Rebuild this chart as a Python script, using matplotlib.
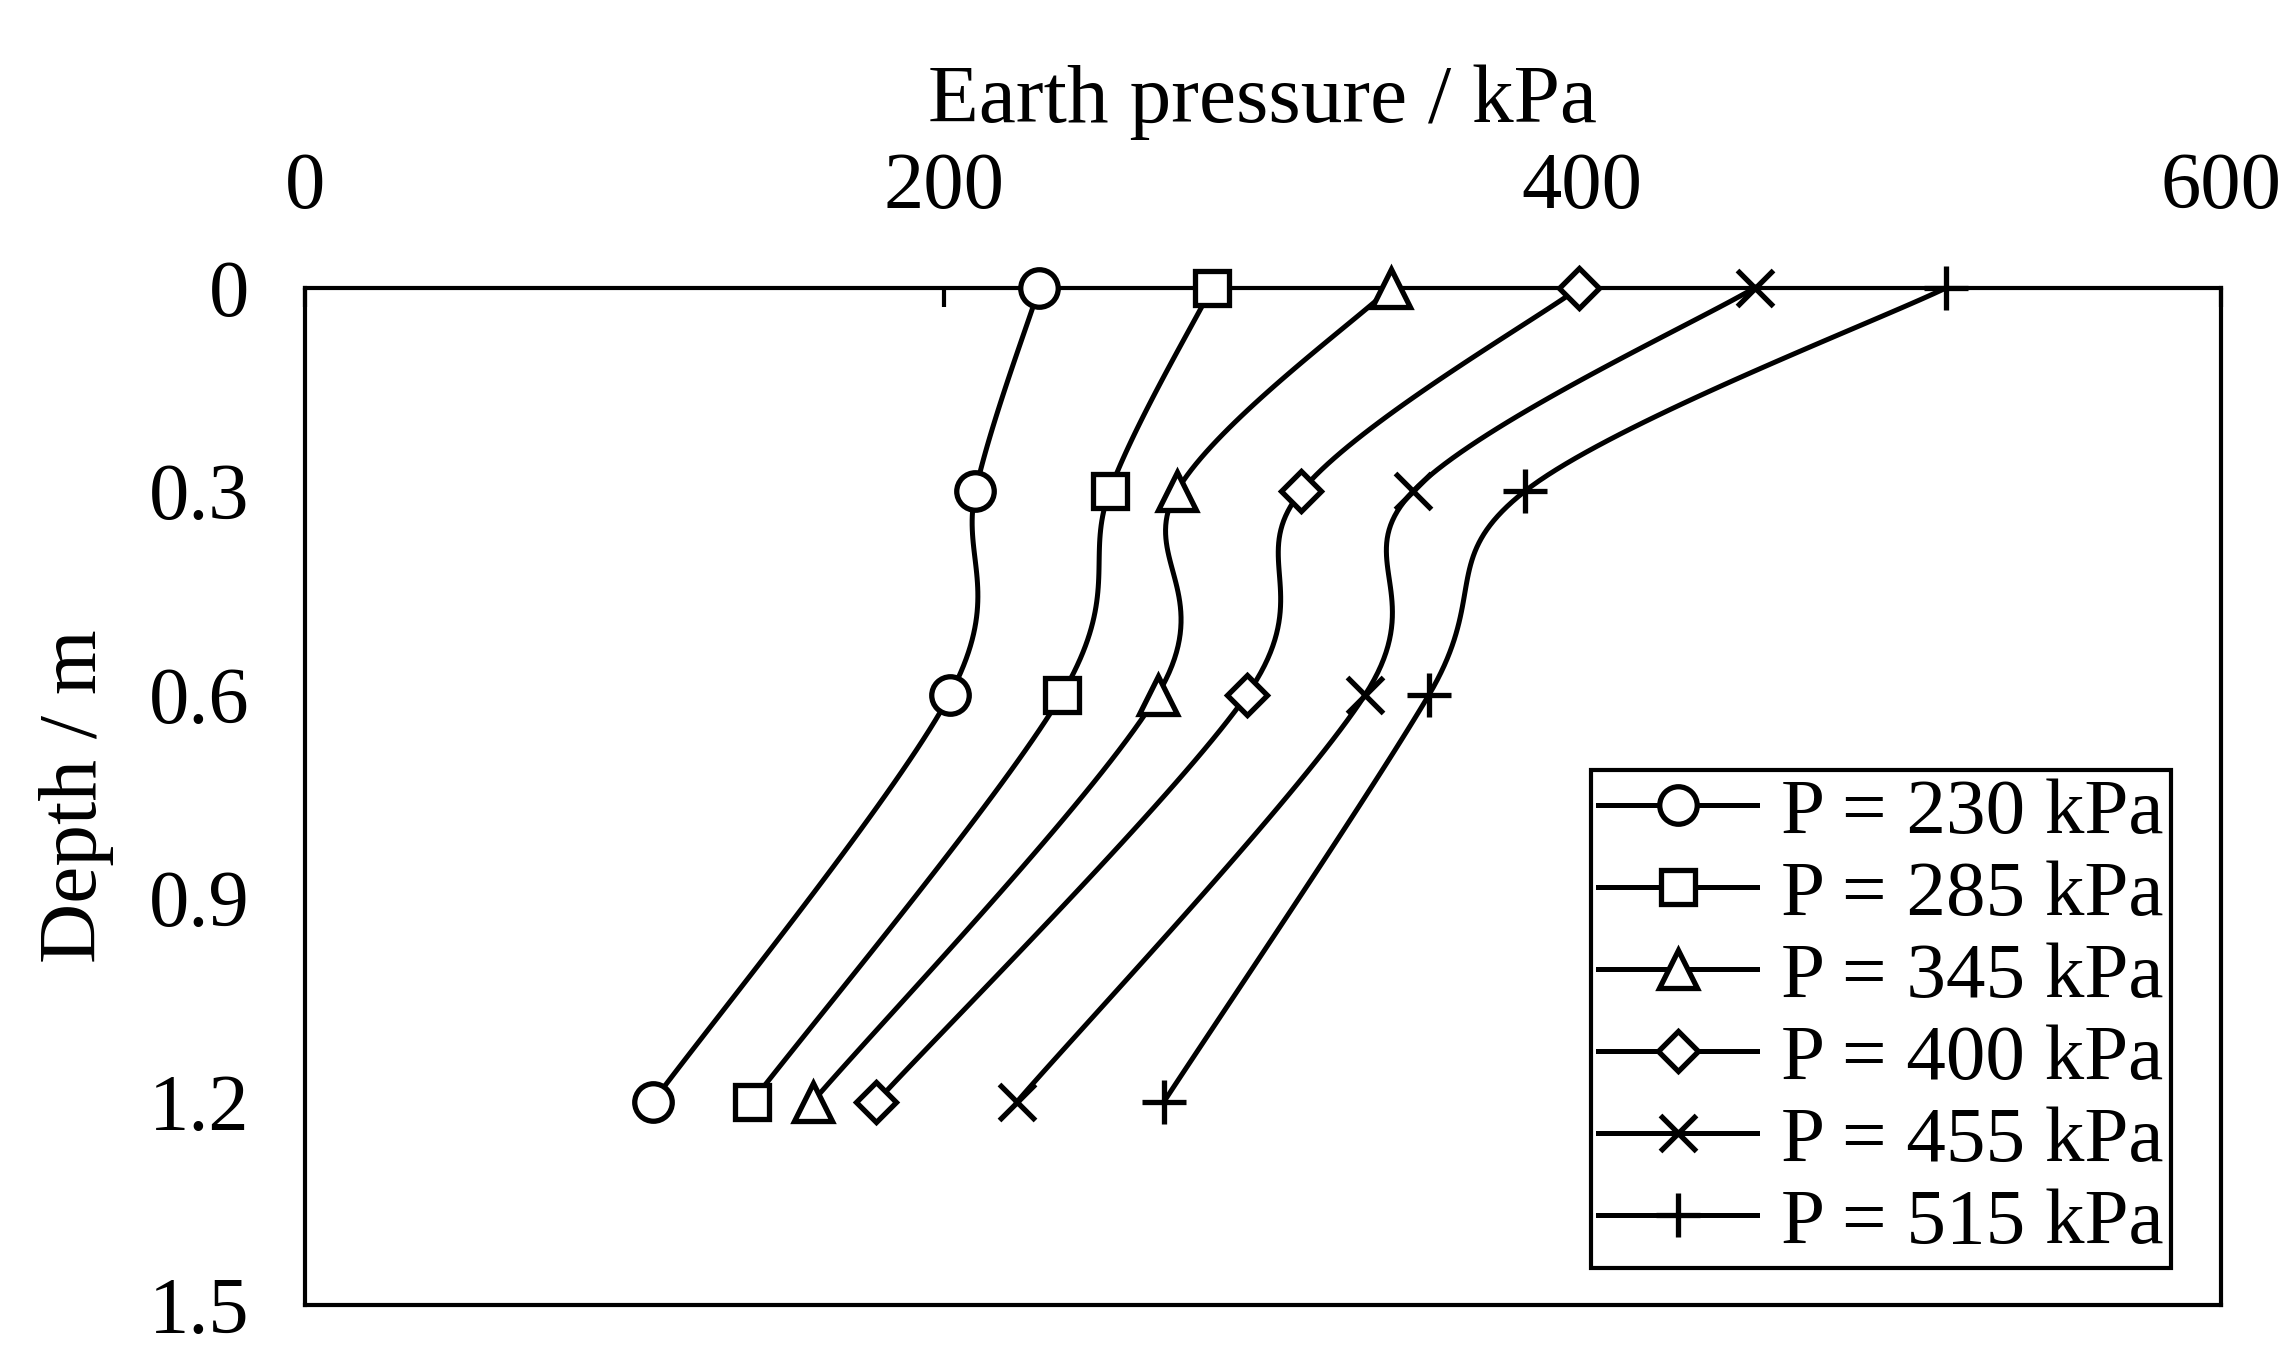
import matplotlib.pyplot as plt
import numpy as np

plt.rcParams['font.family'] = ['Liberation Serif', 'DejaVu Serif']

depth = [0, 0.3, 0.6, 1.2]
p230 = [230, 210, 202, 109]
p285 = [284, 252, 237, 140]
p345 = [340, 273, 267, 159]
p400 = [399, 312, 295, 179]
p455 = [454, 347, 332, 223]
p515 = [514, 382, 352, 269]
series = [p230, p285, p345, p400, p455, p515]
labels = ["P = 230 kPa", "P = 285 kPa", "P = 345 kPa", "P = 400 kPa", "P = 455 kPa", "P = 515 kPa"]
markers = ['o', 's', '^', 'D', 'x', '+']
msizes = [27, 24, 28, 20, 26, 32]


def smooth(xs, ys, n=40):
    # Catmull-Rom through the points, like Excel's smoothed line
    pts = np.column_stack([np.array(xs) / 600 * 1.88, np.array(ys) / 1.5])
    pts = np.vstack([pts[0], pts, pts[-1]])
    out = []
    for i in range(1, len(pts) - 2):
        p0, p1, p2, p3 = pts[i - 1], pts[i], pts[i + 1], pts[i + 2]
        t = np.linspace(0, 1, n)[:, None]
        seg = 0.5 * ((2 * p1) + (-p0 + p2) * t + (2 * p0 - 5 * p1 + 4 * p2 - p3) * t ** 2
                     + (-p0 + 3 * p1 - 3 * p2 + p3) * t ** 3)
        out.append(seg)
    out = np.vstack(out)
    return out[:, 0] * 600 / 1.88, out[:, 1] * 1.5


fig = plt.figure(figsize=(22.92, 13.64), dpi=100)
ax = fig.add_axes([0.133, 0.043, 0.836, 0.746])
for s, lab, m, ms in zip(series, labels, markers, msizes):
    sx, sy = smooth(s, depth)
    ax.plot(sx, sy, color='black', lw=3.6, clip_on=False)
    ax.plot(s, depth, ls='none', marker=m, ms=ms, mfc='white', mec='black', mew=3.8, clip_on=False, zorder=5)
    ax.plot([], [], color='black', lw=3.6, marker=m, ms=ms, mfc='white', mec='black', mew=3.8, label=lab)

ax.set_xlim(0, 600)
ax.set_ylim(1.5, 0)
ax.set_xticks([0, 200, 400, 600])
ax.set_yticks([0, 0.3, 0.6, 0.9, 1.2, 1.5])
ax.set_yticklabels(['0', '0.3', '0.6', '0.9', '1.2', '1.5'])
ax.xaxis.tick_top()
ax.xaxis.set_label_position('top')
ax.tick_params(axis='x', direction='in', length=14, width=3, labelsize=58, pad=45)
ax.tick_params(axis='y', length=0, labelsize=58, pad=40)
for sp in ax.spines.values():
    sp.set_linewidth(3)
ax.set_xlabel("Earth pressure / kPa", fontsize=60, labelpad=22)
ax.set_ylabel("Depth / m", fontsize=60, labelpad=25)
leg = ax.legend(loc='lower left', bbox_to_anchor=(0.671, 0.037), fontsize=57, frameon=True,
                fancybox=False, edgecolor='black', framealpha=1, handlelength=2.0, handletextpad=0.3,
                borderpad=0.1, labelspacing=0.12, borderaxespad=0)
leg.get_frame().set_linewidth(3)
fig.savefig("out.png")
